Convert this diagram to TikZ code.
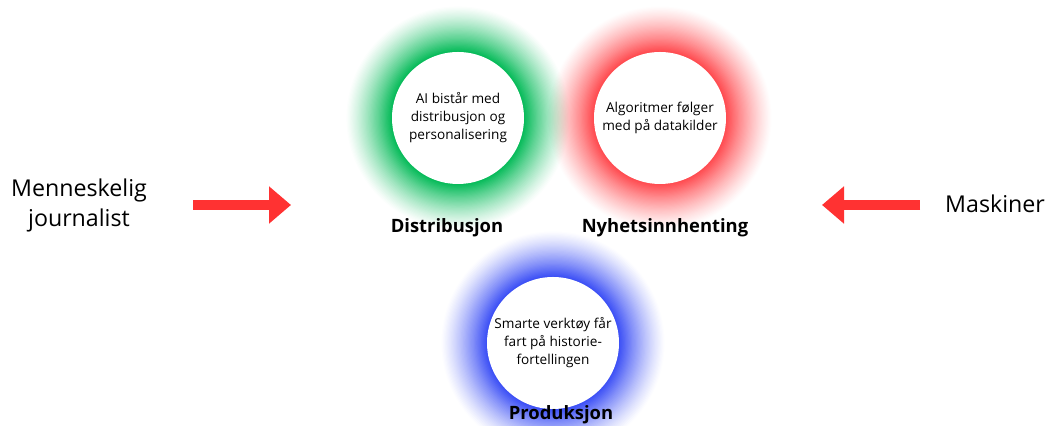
\documentclass[tikz,border=0pt]{standalone}
\usepackage{fontspec}
\setmainfont{Open Sans}
\usetikzlibrary{arrows.meta,positioning,backgrounds}

\definecolor{glowgreen}{RGB}{0,185,85}
\definecolor{glowred}{RGB}{255,70,75}
\definecolor{glowblue}{RGB}{55,75,245}
\definecolor{arrowred}{RGB}{255,50,50}

\tikzset{
    bubble/.style={
        circle,
        fill=white,
        minimum size=66pt,
        inner sep=0pt,
        align=center,
        font=\fontsize{6.8}{9}\selectfont,
    },
    caption/.style={
        font=\fontsize{9.2}{11}\selectfont\bfseries,
    },
    side/.style={
        align=center,
        font=\fontsize{11.6}{15}\selectfont,
    },
    bigarrow/.style={
        draw=arrowred,
        line width=5pt,
        -{Triangle[length=11pt,width=18pt]},
    },
}

% soft coloured halo round a bubble, built from see-through discs
\newcommand{\halo}[2]{%
    \foreach \k [evaluate=\k as \op using
        ((\k/40)^1.3-((\k-1)/40)^1.3)/(1-((\k-1)/40)^1.3)] in {2,...,40}
        \fill [#2, fill opacity=\op] (#1.center) circle ({57pt-\k*0.6pt});
}

\begin{document}
\begin{tikzpicture}[x=0.5pt,y=-0.5pt]
    \useasboundingbox (0,0) rectangle (1046,426);

    \node [bubble] (distr) at (458,118) {AI bistår med\\distribusjon og\\personalisering};
    \node [bubble] (nyhet) at (660,118) {Algoritmer følger\\med på datakilder};
    \node [bubble] (prod) at (553,343) {Smarte verktøy får\\fart på historie-\\fortellingen};

    \begin{scope}[on background layer]
        \halo{prod}{glowblue}
        \halo{nyhet}{glowred}
        \halo{distr}{glowgreen}
    \end{scope}

    \node [caption] (distrlabel) at (447,228) {Distribusjon};
    \node [caption] (nyhetlabel) at (665,228) {Nyhetsinnhenting};
    \node [caption] (prodlabel) at (561,415) {Produksjon};

    \node [side] (human) at (79,205) {Menneskelig\\journalist};
    \node [side] (machine) at (995,204) {Maskiner};

    \coordinate (lstart) at (193,205);
    \coordinate (lend) at (291,205);
    \coordinate (rstart) at (920,205);
    \coordinate (rend) at (822,205);
    \draw [bigarrow] (lstart) -- (lend);
    \draw [bigarrow] (rstart) -- (rend);
\end{tikzpicture}
\end{document}
